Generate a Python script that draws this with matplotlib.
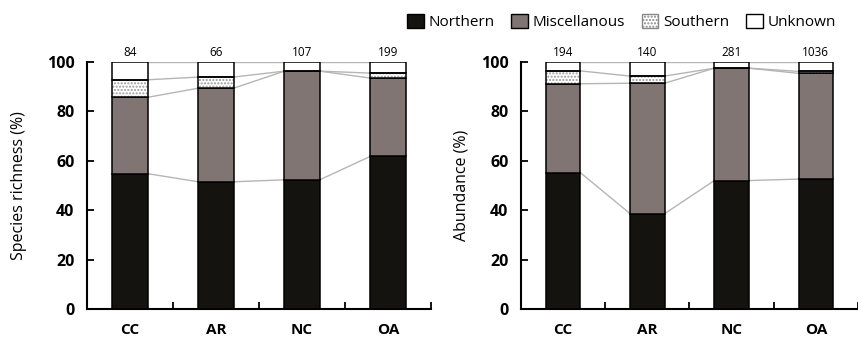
import numpy as np
import matplotlib.pyplot as plt
from matplotlib.patches import Patch

plt.rcParams['font.family'] = ['Open Sans', 'DejaVu Sans']

sites = ['CC', 'AR', 'NC', 'OA']

# species richness (%)
rich_northern = [54.8, 51.5, 52.3, 61.8]
rich_misc = [30.9, 37.9, 44.0, 31.7]
rich_southern = [7.1, 4.5, 0.0, 2.0]
rich_unknown = [7.2, 6.1, 3.7, 4.5]
rich_n = [84, 66, 107, 199]

# abundance (%)
abun_northern = [55.2, 38.6, 52.0, 52.6]
abun_misc = [36.0, 52.8, 45.5, 42.8]
abun_southern = [5.2, 2.9, 0.0, 0.8]
abun_unknown = [3.6, 5.7, 2.5, 3.8]
abun_n = [194, 140, 281, 1036]

c_north = '#151310'
c_misc = '#817573'
c_line = '#b5b5b5'
W = 0.41


def stacked(ax, parts, counts, ylabel, xmax, lpad):
    x = np.arange(len(sites))
    bottom = np.zeros(len(sites))
    levels = []
    for i, vals in enumerate(parts):
        vals = np.array(vals)
        if i == 0:
            ax.bar(x, vals, W, bottom=bottom, color=c_north, edgecolor='black', lw=1.1, zorder=3)
        elif i == 1:
            ax.bar(x, vals, W, bottom=bottom, color=c_misc, edgecolor='black', lw=1.1, zorder=3)
        elif i == 2:
            ax.bar(x, vals, W, bottom=bottom, color='white', edgecolor='#999999', hatch='.....', lw=0, zorder=3)
            ax.bar(x, vals, W, bottom=bottom, color='none', edgecolor='black', lw=1.1, zorder=4)
        else:
            ax.bar(x, vals, W, bottom=bottom, color='white', edgecolor='black', lw=1.1, zorder=3)
        bottom = bottom + vals
        levels.append(bottom.copy())

    # grey lines joining segment boundaries of neighbouring bars
    for lev in levels:
        for i in range(len(sites) - 1):
            ax.plot([x[i] + W / 2, x[i + 1] - W / 2], [lev[i], lev[i + 1]],
                    color=c_line, lw=1.0, zorder=2)

    for xi, n in zip(x, counts):
        ax.text(xi, 101.3, str(n), ha='center', va='bottom', fontsize=8.5)

    ax.set_xlim(-0.5, xmax)
    ax.set_ylim(0, 100)
    ax.set_yticks(range(0, 101, 20))
    ax.set_xticks(x)
    ax.set_xticklabels(sites, fontweight='bold', fontsize=11)
    ax.set_xticks([0.5, 1.5, 2.5, 3.5], minor=True)
    ax.tick_params(axis='x', which='major', length=0, pad=10)
    ax.tick_params(axis='x', which='minor', direction='in', length=5, width=1.3)
    ax.tick_params(axis='y', direction='in', length=5, width=1.3, pad=9, labelsize=11.5)
    for lab in ax.get_yticklabels():
        lab.set_fontweight('bold')
    ax.set_ylabel(ylabel, fontsize=11.5, labelpad=lpad)
    for s in ['top', 'right']:
        ax.spines[s].set_visible(False)
    for s in ['left', 'bottom']:
        ax.spines[s].set_linewidth(1.5)


fig = plt.figure(figsize=(8.58, 3.39), dpi=100)
ax1 = fig.add_axes([0.1014, 0.0885, 0.401, 0.7286])
ax2 = fig.add_axes([0.6072, 0.0885, 0.3928, 0.7286])

stacked(ax1, [rich_northern, rich_misc, rich_southern, rich_unknown], rich_n,
        'Species richness (%)', 3.5, 14)
stacked(ax2, [abun_northern, abun_misc, abun_southern, abun_unknown], abun_n,
        'Abundance (%)', 3.42, 8)

handles = [
    Patch(facecolor=c_north, edgecolor='black', lw=1),
    Patch(facecolor=c_misc, edgecolor='black', lw=1),
    Patch(facecolor='white', edgecolor='#888888', hatch='.....', lw=1),
    Patch(facecolor='white', edgecolor='black', lw=1),
]
fig.legend(handles, ['Northern', 'Miscellanous', 'Southern', 'Unknown'],
           loc='upper right', bbox_to_anchor=(0.99, 1.0), ncol=4, frameon=False,
           fontsize=11, handlelength=1.1, handleheight=1.1, handletextpad=0.3,
           columnspacing=1.1)

fig.savefig('out.png', dpi=100)
